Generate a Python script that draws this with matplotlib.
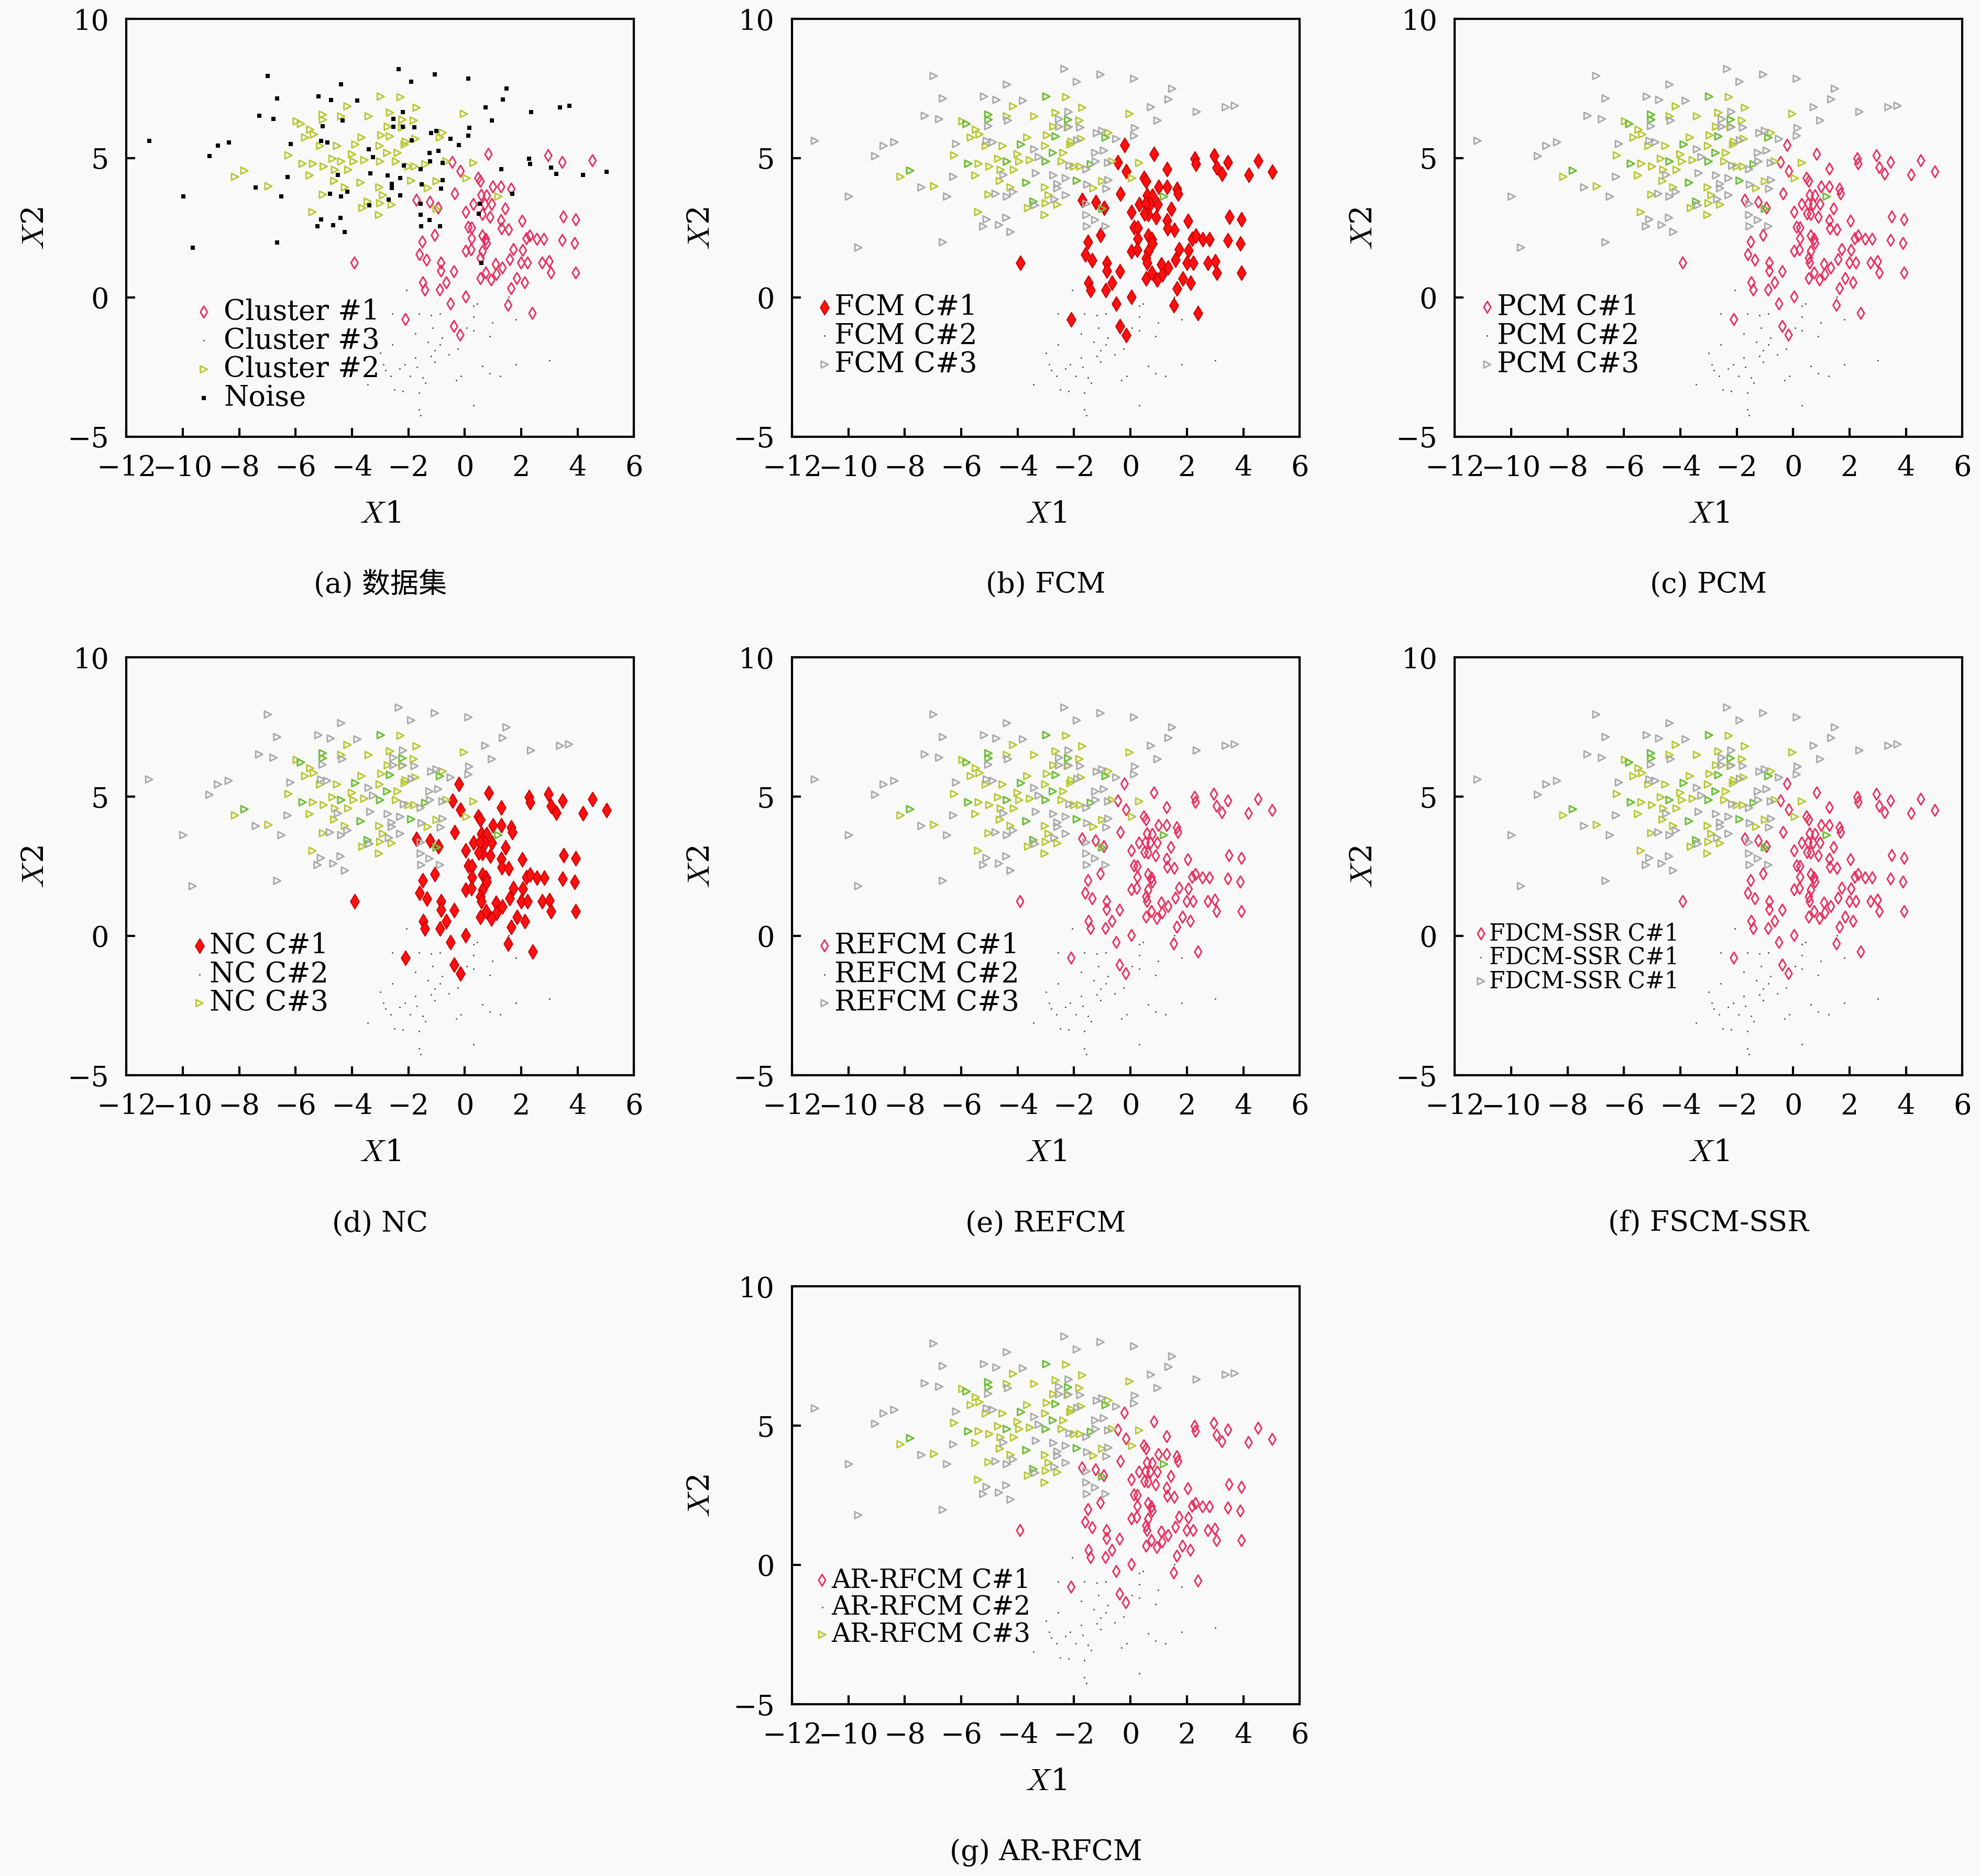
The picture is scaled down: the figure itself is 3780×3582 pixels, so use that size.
import matplotlib
matplotlib.use("Agg")
import matplotlib.pyplot as plt
import numpy as np

plt.rcParams['font.family'] = ['DejaVu Serif', 'Noto Sans CJK SC']
plt.rcParams['mathtext.fontset'] = 'cm'
plt.rcParams['axes.unicode_minus'] = True

# cluster 1 (diamonds)
c1_x = [0.84, 2.96, 3.46, 4.53, -0.44, -0.15, 0.48, 0.56, 1.0, 1.29, 1.65, -0.35, 0.59, 0.78, -1.71, -1.23,
        0.31, 0.71, 0.96, -0.94, 1.44, 0.04, 0.63, 0.9, 3.5, 3.94, 2.04, 1.29, 0.13, 0.25, 1.31, 1.56, 0.25,
        0.63, -1.06, 0.75, 0.78, 2.19, 2.31, 2.56, 2.81, 3.46, 3.9, -1.5, 0.04, 0.23, 1.73, 2.06, -1.6, 0.63,
        -3.91, -1.35, -0.84, -0.84, -0.38, 0.56, 1.1, 1.34, 1.6, 2.0, 2.23, 2.75, 3.0, 3.06, 3.94, 0.75, 0.56,
        0.94, 1.13, 1.85, 2.13, -1.48, -1.41, -0.88, -0.65, 1.65, 0.04, -0.5, 1.54, 2.4, -2.1, -0.38, -0.16]
c1_y = [5.14, 5.09, 4.85, 4.91, 4.85, 4.53, 4.28, 4.17, 3.97, 3.97, 3.89, 3.72, 3.67, 3.65, 3.49, 3.42,
        3.34, 3.34, 3.34, 3.21, 3.18, 3.06, 2.98, 2.88, 2.89, 2.79, 2.74, 2.76, 2.52, 2.5, 2.47, 2.43, 2.11,
        2.21, 2.23, 2.09, 1.94, 2.11, 2.21, 2.09, 2.09, 2.05, 1.94, 1.99, 1.66, 1.71, 1.72, 1.69, 1.54, 1.65,
        1.24, 1.34, 1.24, 0.95, 0.93, 1.41, 1.19, 1.06, 1.36, 1.24, 1.24, 1.24, 1.29, 0.88, 0.88, 0.88, 0.68,
        0.63, 0.83, 0.68, 0.53, 0.53, 0.27, 0.27, 0.53, 0.32, 0.02, -0.23, -0.28, -0.57, -0.79, -1.04, -1.35]

# cluster 2 (triangles)
c2_x = [-2.98, -2.28, -4.16, -1.71, -5.04, -3.41, -4.38, -2.65, -2.21, -1.81, -0.03, -5.96, -5.81, -5.48,
        -5.35, -5.66, -5.03, -2.73, -2.22, -2.96, -2.65, -3.66, -2.09, -1.75, -0.88, -0.78, -5.13, -4.53,
        -3.88, -4.0, -3.94, -3.02, -2.75, -2.38, -2.13, -6.25, -5.75, -5.38, -5.0, -4.69, -4.38, -4.6, -4.13,
        -3.56, -3.0, -2.44, -2.0, -1.78, -1.4, -0.65, 0.31, -8.15, -7.81, -6.96, -5.5, -4.63, -3.69, -4.25,
        -3.03, -2.9, -1.9, -1.31, -1.0, 0.06, 1.19, -5.03, -5.4, -3.63, -3.44, -3.0, -3.04, -2.59, -1.0]
c2_y = [7.21, 7.19, 6.86, 6.81, 6.56, 6.5, 6.5, 6.63, 6.38, 6.35, 6.59, 6.32, 6.23, 6.02, 5.85, 5.74, 6.38,
        6.13, 6.1, 5.82, 5.78, 5.74, 5.59, 5.69, 5.74, 5.91, 5.44, 5.44, 5.49, 5.14, 4.88, 5.44, 5.19, 5.19,
        5.49, 5.1, 4.8, 4.8, 4.7, 4.98, 4.88, 4.58, 4.58, 4.93, 4.88, 4.88, 4.7, 4.7, 4.78, 4.88, 4.83, 4.33,
        4.55, 3.99, 4.38, 4.18, 4.12, 3.95, 3.95, 3.67, 4.19, 3.92, 4.17, 4.28, 3.62, 3.69, 3.06, 3.21, 3.44,
        3.38, 2.96, 3.33, 3.18]

# cluster 3 (dots)
c3_x = [-2.06, 0.44, 0.31, 1.56, -2.56, -1.63, -1.19, -0.88, 0.31, 1.81, 0.98, -1.13, 0.06, -1.75, 0.31,
        -0.81, 0.88, -1.31, -0.88, -0.25, -2.56, -1.06, -3.0, -1.75, -1.19, -0.56, -2.88, -2.13, -1.06, 3.0,
        1.81, 0.63, -2.81, -2.31, -1.69, 0.88, -2.63, -1.94, -1.5, 1.25, -0.13, -0.31, -3.44, -2.5, -2.19,
        -1.4, -1.63, 0.31, -1.63, -1.56]
c3_y = [0.27, -0.23, -0.3, 0.02, -0.59, -0.59, -0.64, -0.59, -0.69, -0.79, -0.9, -1.09, -1.09, -1.3, -1.19,
        -1.45, -1.4, -1.6, -1.7, -1.85, -1.7, -1.9, -2.0, -2.16, -2.1, -2.06, -2.41, -2.41, -2.31, -2.26,
        -2.41, -2.46, -2.61, -2.56, -2.51, -2.72, -2.82, -2.82, -2.87, -2.82, -2.82, -2.97, -3.12, -3.32,
        -3.37, -3.07, -3.42, -3.88, -4.03, -4.24]

# noise points
nz_x = [-11.19, -6.98, -4.38, -2.34, -1.9, -1.06, 0.13, 1.48, 1.35, 0.73, 0.96, 2.35, 3.38, 3.7, -6.65,
        -5.19, -4.75, -3.81, -7.29, -6.78, -5.04, -4.34, -8.75, -8.37, -9.05, -9.98, -9.65, -6.18, -6.28,
        -7.41, -6.5, -5.09, -4.88, -4.5, -4.78, -4.38, -4.16, -5.1, -5.22, -4.66, -4.4, -4.25, -6.65, -3.41,
        -3.25, -3.35, -3.38, -2.53, -2.19, -2.53, -2.19, -1.78, -1.88, -1.19, -1.0, -0.5, -0.21, 0.16, 0.13,
        -1.25, -0.94, -1.23, -0.79, -2.16, -1.56, -2.73, -2.29, -2.59, -2.59, -1.53, -0.78, -0.85, -2.29,
        -2.69, -1.56, -1.56, -1.25, -1.54, -0.88, 1.29, 2.28, 2.31, 3.06, 3.25, 4.19, 5.03, 1.69, 0.54, 0.5,
        0.59]
nz_y = [5.62, 7.95, 7.64, 8.2, 7.74, 8.0, 7.85, 7.49, 7.11, 6.83, 6.35, 6.66, 6.83, 6.88, 7.14, 7.21, 7.09,
        7.06, 6.52, 6.4, 6.15, 6.35, 5.44, 5.57, 5.07, 3.62, 1.79, 5.51, 4.33, 3.95, 3.62, 5.62, 5.57, 4.4,
        3.72, 3.62, 3.79, 2.8, 2.55, 2.6, 2.86, 2.35, 1.98, 5.32, 5.04, 4.46, 3.31, 6.4, 6.66, 6.13, 6.12,
        6.1, 5.64, 5.9, 5.98, 5.69, 5.46, 6.08, 5.8, 5.19, 5.27, 4.88, 4.83, 4.73, 4.6, 4.38, 4.28, 4.07,
        3.92, 4.05, 4.21, 3.9, 3.67, 3.52, 3.36, 2.96, 2.78, 2.55, 2.55, 4.61, 4.98, 4.8, 4.66, 4.43, 4.4,
        4.51, 3.72, 3.36, 3.0, 1.24]

captions = ['(a) 数据集', '(b) FCM', '(c) PCM', '(d) NC', '(e) REFCM', '(f) FSCM-SSR', '(g) AR-RFCM']
legend_names = [None, 'FCM', 'PCM', 'NC', 'REFCM', 'FDCM-SSR', 'AR-RFCM']

fig = plt.figure(figsize=(12.6, 11.9433), dpi=300)
fig.patch.set_facecolor('#f9f9f9')

lefts = [0.0638, 0.400, 0.7347]
bottoms = [0.767, 0.4267, 0.0915]
pos = [(0, 0), (1, 0), (2, 0), (0, 1), (1, 1), (2, 1), (1, 2)]
W, H = 0.2564, 0.2227

nz_x = np.array(nz_x); nz_y = np.array(nz_y)
right = (nz_x > -0.5) & (nz_y < 5.6)

for i, (ci, ri) in enumerate(pos):
    ax = fig.add_axes([lefts[ci], bottoms[ri], W, H])
    ax.set_facecolor('#f9f9f9')
    filled = i in (1, 3)
    dcol = '#ff1010' if filled else '#e8305f'
    if i == 0:
        h1 = ax.scatter(c1_x, c1_y, marker='d', s=14, facecolors='none', edgecolors=dcol, linewidths=0.7)
        h3 = ax.scatter(c3_x, c3_y, marker='.', s=2, color='#444444', linewidths=0)
        h2 = ax.scatter(c2_x, c2_y, marker='>', s=10, facecolors='none', edgecolors='#b8c830', linewidths=0.7)
        hn = ax.scatter(nz_x, nz_y, marker='s', s=3, color='black', linewidths=0)
        ax.legend([h1, h3, h2, hn], ['Cluster #1', 'Cluster #3', 'Cluster #2', 'Noise'],
                  loc='lower left', bbox_to_anchor=(0.08, 0.0), frameon=False, fontsize=13,
                  handletextpad=0.3, labelspacing=0.05, handlelength=0.8, markerscale=1.0)
    else:
        cx = list(c1_x) + list(nz_x[right])
        cy = list(c1_y) + list(nz_y[right])
        if filled:
            h1 = ax.scatter(cx, cy, marker='d', s=22, color=dcol, linewidths=0.5, edgecolors='#cc0000')
        else:
            h1 = ax.scatter(cx, cy, marker='d', s=14, facecolors='none', edgecolors=dcol, linewidths=0.7)
        h3 = ax.scatter(c3_x, c3_y, marker='.', s=2, color='#444444', linewidths=0)
        h2 = ax.scatter(c2_x, c2_y, marker='>', s=10, facecolors='none', edgecolors='#b8c830', linewidths=0.7)
        ax.scatter(c2_x[::4], c2_y[::4], marker='>', s=10, facecolors='none', edgecolors='#6cc040', linewidths=0.7)
        hg = ax.scatter(nz_x[~right], nz_y[~right], marker='>', s=10, facecolors='none',
                        edgecolors='#aaaaaa', linewidths=0.7)
        name = legend_names[i]
        if i == 5:
            labels = [name + ' C#1'] * 3
            fs = 10.5
        else:
            labels = [name + ' C#1', name + ' C#2', name + ' C#3']
            fs = 12 if i == 6 else 13
        hs = [h1, h3, h2] if i in (3, 6) else [h1, h3, hg]
        ax.legend(hs, labels, loc='lower left',
                  bbox_to_anchor=(0.0 if i != 3 else 0.08, 0.08 if i != 5 else 0.15),
                  frameon=False, fontsize=fs, handletextpad=0.1, labelspacing=0.05, handlelength=0.5)
    ax.set_xlim(-12, 6)
    ax.set_ylim(-5, 10)
    ax.set_xticks(range(-12, 7, 2))
    ax.set_yticks([-5, 0, 5, 10])
    ax.tick_params(direction='in', labelsize=13, length=4, width=1, pad=8)
    for sp in ax.spines.values():
        sp.set_linewidth(1.0)
    ax.set_xlabel('$X$1', fontsize=14, labelpad=8)
    ax.set_ylabel('$X$2', fontsize=14, labelpad=8)
    fig.text(lefts[ci] + W / 2, bottoms[ri] - 0.0787, captions[i], ha='center', va='center', fontsize=13)

fig.savefig('out.png', dpi=300, facecolor=fig.get_facecolor())
